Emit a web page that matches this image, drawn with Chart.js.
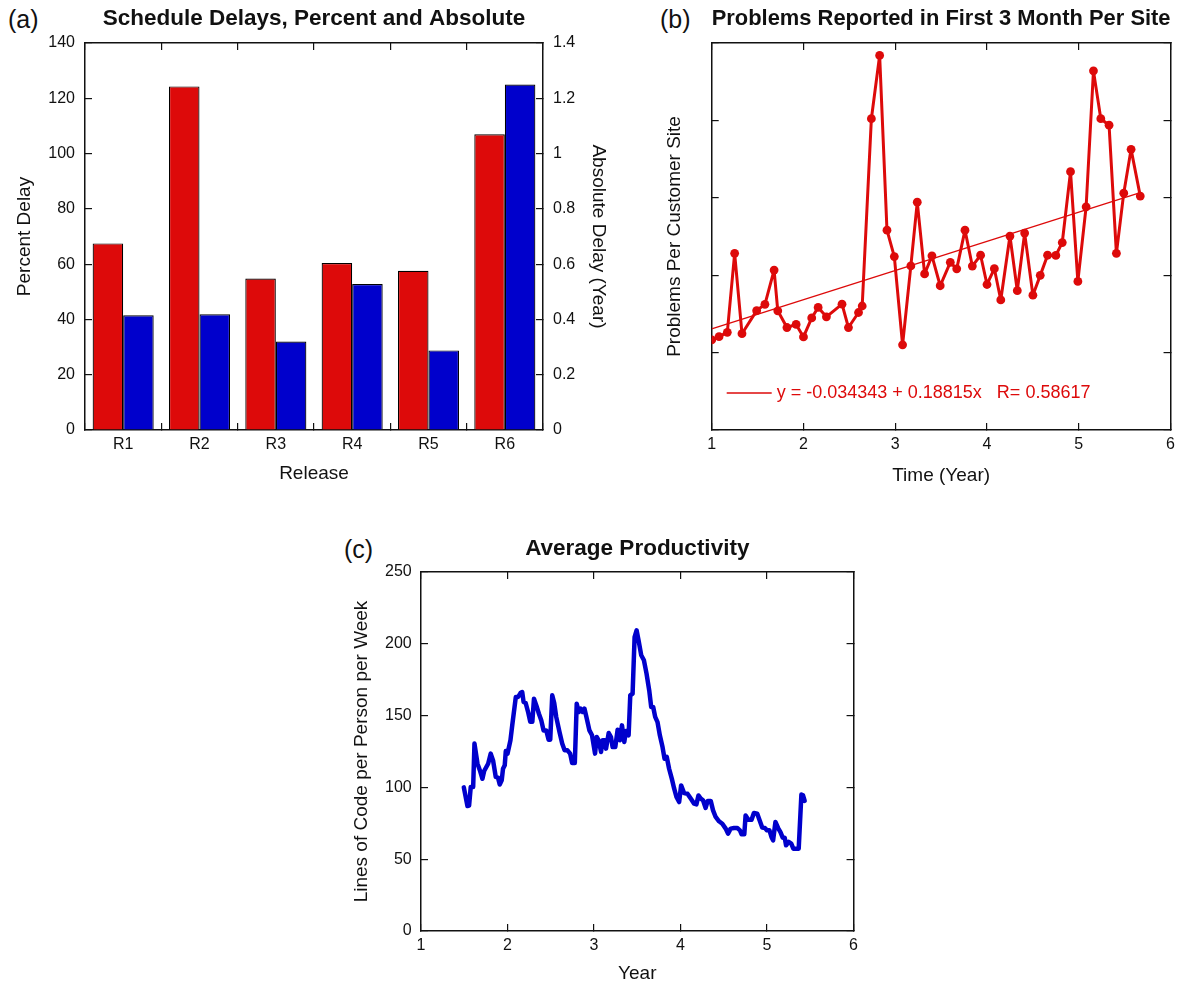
<!DOCTYPE html>
<html>
<head>
<meta charset="utf-8">
<title>Project Metrics</title>
<script src="https://cdn.jsdelivr.net/npm/chart.js@4.4.1/dist/chart.umd.min.js"></script>
<style>
    html, body { margin: 0; padding: 0; background: #fff; }
    body {
        width: 1187px;
        height: 986px;
        position: relative;
        overflow: hidden;
        font-family: "Liberation Sans", Arial, Helvetica, sans-serif;
    }
    canvas { position: absolute; }
    .panel-tag {
        position: absolute;
        font-size: 25px;
        line-height: 26px;
        color: #111;
    }
</style>
</head>
<body>
<div class="panel-tag" style="left:8px; top:6px;">(a)</div>
<div class="panel-tag" style="left:660px; top:6px;">(b)</div>
<div class="panel-tag" style="left:344px; top:536px;">(c)</div>
<canvas id="delayChart" width="640" height="500" style="left:0; top:0;"></canvas>
<canvas id="problemsChart" width="547" height="500" style="left:640px; top:0;"></canvas>
<canvas id="productivityChart" width="540" height="466" style="left:330px; top:520px;"></canvas>

<script>
// (a) Schedule delays per release
const releases = ['R1', 'R2', 'R3', 'R4', 'R5', 'R6'];
const percentDelay = [67.5, 124.3, 54.8, 60.4, 57.6, 107.0];
const absoluteDelay = [0.415, 0.419, 0.32, 0.528, 0.288, 1.25];

// (b) Problems per customer site, first 3 months
const problemYears = [1.00, 1.08, 1.17, 1.25, 1.33, 1.49, 1.58, 1.68, 1.72, 1.82,
    1.92, 2.00, 2.09, 2.16, 2.25, 2.42, 2.49, 2.60, 2.64, 2.74,
    2.83, 2.91, 2.99, 3.08, 3.17, 3.24, 3.32, 3.40, 3.49, 3.60,
    3.67, 3.76, 3.84, 3.93, 4.00, 4.08, 4.15, 4.25, 4.33, 4.41,
    4.50, 4.58, 4.66, 4.75, 4.82, 4.91, 4.99, 5.08, 5.16, 5.24,
    5.33, 5.41, 5.49, 5.57, 5.67];
const problemsPerSite = [0.082, 0.103, 0.131, 0.641, 0.122, 0.271, 0.312, 0.533, 0.27, 0.162,
    0.182, 0.101, 0.224, 0.292, 0.231, 0.313, 0.162, 0.259, 0.301, 1.511,
    1.92, 0.791, 0.62, 0.05, 0.56, 0.972, 0.508, 0.625, 0.432, 0.583,
    0.541, 0.791, 0.559, 0.629, 0.44, 0.542, 0.34, 0.753, 0.4, 0.772,
    0.371, 0.499, 0.629, 0.628, 0.711, 1.169, 0.46, 0.942, 1.82, 1.511,
    1.469, 0.641, 1.03, 1.313, 1.011];
const fitYears = [1.0, 5.67];
const fitValues = [0.154, 1.033];
const fitLabel = 'y = -0.034343 + 0.18815x   R= 0.58617';

// (c) Average productivity
const productivityYears = [1.495, 1.537, 1.556, 1.575, 1.603, 1.618, 1.653, 1.68, 1.71, 1.73,
    1.776, 1.806, 1.833, 1.864, 1.89, 1.91, 1.933, 1.948, 1.968, 1.98,
    2.0, 2.034, 2.057, 2.096, 2.123, 2.15, 2.17, 2.186, 2.21, 2.24,
    2.263, 2.287, 2.306, 2.333, 2.363, 2.39, 2.417, 2.448, 2.475, 2.494,
    2.517, 2.54, 2.563, 2.601, 2.632, 2.66, 2.693, 2.724, 2.747, 2.778,
    2.8, 2.824, 2.847, 2.87, 2.89, 2.916, 2.947, 2.977, 3.012, 3.031,
    3.054, 3.081, 3.1, 3.127, 3.139, 3.17, 3.196, 3.215, 3.246, 3.273,
    3.3, 3.323, 3.35, 3.369, 3.4, 3.419, 3.446, 3.469, 3.492, 3.515,
    3.546, 3.577, 3.607, 3.638, 3.661, 3.684, 3.707, 3.734, 3.761, 3.792,
    3.815, 3.841, 3.868, 3.899, 3.926, 3.953, 3.984, 4.007, 4.041, 4.08,
    4.118, 4.157, 4.184, 4.207, 4.234, 4.26, 4.29, 4.314, 4.349, 4.376,
    4.406, 4.445, 4.483, 4.522, 4.549, 4.579, 4.618, 4.656, 4.687, 4.706,
    4.737, 4.752, 4.783, 4.821, 4.848, 4.887, 4.914, 4.944, 4.975, 5.0,
    5.028, 5.051, 5.07, 5.097, 5.128, 5.155, 5.181, 5.204, 5.22, 5.25,
    5.28, 5.304, 5.335, 5.366, 5.397, 5.416, 5.435];
const linesPerWeek = [100, 87, 87.3, 100.3, 100.3, 130.5, 116.5, 112, 106, 111.4,
    116.5, 123.5, 118.8, 107.3, 106.8, 102, 105, 113, 115.4, 125.3,
    123.5, 132.8, 144.4, 163, 163, 165.7, 166.4, 159.5, 158.8, 152,
    145.7, 145.7, 161.8, 157.1, 151.3, 146.7, 139.7, 139.7, 133.2, 133.2,
    164.1, 158.8, 149.1, 138.6, 130.5, 125.8, 125.8, 123.5, 117, 117,
    158.3, 152.5, 154.8, 152.5, 154.8, 147.9, 139.7, 136.3, 123.5, 135.1,
    132.8, 124.7, 132.8, 132.8, 127, 137.9, 135.1, 128.1, 128.1, 140.2,
    132.8, 143.2, 131.6, 139.3, 136.3, 164.1, 165.3, 204.7, 209.4, 202.4,
    192, 188.5, 179.2, 167.6, 156, 156, 149.1, 145.5, 136.3, 128.1,
    120, 121.2, 113, 106.1, 99.3, 93.3, 89.8, 101.4, 96.1, 95.6,
    92.2, 88.7, 88.2, 94.4, 92.2, 91, 85.7, 90.6, 90.6, 84,
    79.4, 76.4, 74.7, 71.3, 67.8, 71.3, 71.7, 71.7, 70.1, 67.3,
    67.3, 80.5, 77.5, 77.5, 82.2, 81.7, 77.1, 72, 71.7, 70.1,
    70.1, 65.5, 63.1, 75.9, 71.7, 68.9, 65, 65, 59.7, 62,
    60.8, 57.3, 57.3, 57.3, 95, 94.5, 90.6];

// Shared look
const FONT = '"Liberation Sans", Arial, Helvetica, sans-serif';
const INK = '#111';
const RED = '#dd0a0a';
const BLUE = '#0000cc';

Chart.defaults.font.family = FONT;
Chart.defaults.color = INK;
Chart.defaults.animation = false;
Chart.defaults.plugins.legend.display = false;
Chart.defaults.plugins.tooltip.enabled = false;

const tickFont = { size: 16 };
const axisTitleFont = { size: 19 };

// inward tick marks, no grid on the plot
function inwardGrid(offset) {
    return {
        drawOnChartArea: false,
        drawTicks: true,
        tickLength: -7,
        color: INK,
        lineWidth: 1.2,
        offset: !!offset
    };
}
const frameBorder = { display: true, color: INK, width: 1.5 };

function fixWidth(w) {
    return scale => { scale.width = w; };
}
function fixHeight(h) {
    return scale => { scale.height = h; };
}

// "1.0" -> "1", "0.0" -> "0"
function plainNumber(value) {
    return String(Number(value.toFixed(2)));
}

function panelTitle(text, top, bottom) {
    return {
        display: true,
        text: text,
        fullSize: false,
        font: { size: 22.5, weight: 'bold' },
        color: INK,
        padding: { top: top, bottom: bottom }
    };
}

// vertical axes use padding.top, bottom axes use padding.bottom
function axisTitle(text, pad) {
    return {
        display: true,
        text: text,
        font: axisTitleFont,
        color: INK,
        padding: { top: pad, bottom: pad }
    };
}

// Draws the fit line legend in the lower-left of the plot
const fitLegend = {
    id: 'fitLegend',
    afterDraw(chart) {
        const { ctx, chartArea } = chart;
        const y = chartArea.bottom - 37;
        ctx.save();
        ctx.strokeStyle = RED;
        ctx.lineWidth = 1.3;
        ctx.beginPath();
        ctx.moveTo(chartArea.left + 15, y);
        ctx.lineTo(chartArea.left + 60, y);
        ctx.stroke();
        ctx.fillStyle = RED;
        ctx.font = '18px ' + FONT;
        ctx.textBaseline = 'middle';
        ctx.textAlign = 'left';
        ctx.fillText(fitLabel, chartArea.left + 65, y);
        ctx.restore();
    }
};

document.addEventListener('DOMContentLoaded', () => {
    renderDelayChart();
    renderProblemsChart();
    renderProductivityChart();
});

// Render (a)
function renderDelayChart() {
    const ctx = document.getElementById('delayChart').getContext('2d');
    new Chart(ctx, {
        type: 'bar',
        data: {
            labels: releases,
            datasets: [
                {
                    label: 'Percent Delay',
                    data: percentDelay,
                    backgroundColor: RED,
                    borderColor: '#000',
                    borderWidth: 1.2,
                    yAxisID: 'y'
                },
                {
                    label: 'Absolute Delay (Year)',
                    data: absoluteDelay,
                    backgroundColor: BLUE,
                    borderColor: '#000',
                    borderWidth: 1.2,
                    yAxisID: 'y1'
                }
            ]
        },
        options: {
            responsive: false,
            categoryPercentage: 0.8,
            barPercentage: 1.0,
            layout: { padding: 0 },
            plugins: {
                title: panelTitle('Schedule Delays, Percent and Absolute', 5.5, 10.5)
            },
            scales: {
                x: {
                    position: 'bottom',
                    offset: true,
                    grid: inwardGrid(true),
                    border: frameBorder,
                    ticks: { font: tickFont, padding: 12, autoSkip: false, maxRotation: 0 },
                    title: axisTitle('Release', 14.6),
                    afterFit: fixHeight(70)
                },
                xTop: {
                    type: 'category',
                    position: 'top',
                    offset: true,
                    grid: inwardGrid(true),
                    border: frameBorder,
                    ticks: { display: false },
                    afterFit: fixHeight(0)
                },
                y: {
                    position: 'left',
                    min: 0,
                    max: 140,
                    ticks: { stepSize: 20, font: tickFont, padding: 17 },
                    grid: inwardGrid(),
                    border: frameBorder,
                    title: axisTitle('Percent Delay', 13.6),
                    afterFit: fixWidth(85)
                },
                y1: {
                    position: 'right',
                    min: 0,
                    max: 1.4,
                    ticks: { stepSize: 0.2, font: tickFont, padding: 17, callback: plainNumber },
                    grid: inwardGrid(),
                    border: frameBorder,
                    title: axisTitle('Absolute Delay (Year)', 30.6),
                    afterFit: fixWidth(97)
                }
            }
        }
    });
}

// Render (b)
function renderProblemsChart() {
    const ctx = document.getElementById('problemsChart').getContext('2d');
    new Chart(ctx, {
        type: 'line',
        data: {
            datasets: [
                {
                    label: 'Problems',
                    data: problemYears.map((x, i) => ({ x: x, y: problemsPerSite[i] })),
                    borderColor: RED,
                    backgroundColor: RED,
                    borderWidth: 3,
                    borderJoinStyle: 'round',
                    borderCapStyle: 'round',
                    pointRadius: 4.4,
                    pointBorderWidth: 0,
                    pointBackgroundColor: RED,
                    tension: 0
                },
                {
                    label: fitLabel,
                    data: fitYears.map((x, i) => ({ x: x, y: fitValues[i] })),
                    borderColor: RED,
                    borderWidth: 1.3,
                    pointRadius: 0,
                    tension: 0
                }
            ]
        },
        options: {
            responsive: false,
            layout: { padding: 0 },
            plugins: {
                title: panelTitle('Problems Reported in First 3 Month Per Site', 5.5, 10.5)
            },
            scales: {
                x: {
                    type: 'linear',
                    position: 'bottom',
                    min: 1,
                    max: 6,
                    ticks: { stepSize: 1, font: tickFont, padding: 12, autoSkip: false, maxRotation: 0 },
                    grid: inwardGrid(),
                    border: frameBorder,
                    title: axisTitle('Time (Year)', 12.6),
                    afterFit: fixHeight(70)
                },
                xTop: {
                    type: 'linear',
                    position: 'top',
                    min: 1,
                    max: 6,
                    ticks: { stepSize: 1, display: false },
                    grid: inwardGrid(),
                    border: frameBorder,
                    afterFit: fixHeight(0)
                },
                y: {
                    type: 'linear',
                    position: 'left',
                    min: -0.5,
                    max: 2.0,
                    ticks: { stepSize: 0.5, display: false },
                    grid: inwardGrid(),
                    border: frameBorder,
                    title: axisTitle('Problems Per Customer Site', 23.6),
                    afterFit: fixWidth(71.7)
                },
                yRight: {
                    type: 'linear',
                    position: 'right',
                    min: -0.5,
                    max: 2.0,
                    ticks: { stepSize: 0.5, display: false },
                    grid: inwardGrid(),
                    border: frameBorder,
                    afterFit: fixWidth(11)
                }
            }
        },
        plugins: [fitLegend]
    });
}

// Render (c)
function renderProductivityChart() {
    const ctx = document.getElementById('productivityChart').getContext('2d');
    new Chart(ctx, {
        type: 'line',
        data: {
            datasets: [{
                label: 'Average Productivity',
                data: productivityYears.map((x, i) => ({ x: x, y: linesPerWeek[i] })),
                borderColor: BLUE,
                borderWidth: 4.5,
                borderJoinStyle: 'round',
                borderCapStyle: 'round',
                pointRadius: 0,
                tension: 0
            }]
        },
        options: {
            responsive: false,
            layout: { padding: 0 },
            plugins: {
                title: panelTitle('Average Productivity', 15.5, 9.5)
            },
            scales: {
                x: {
                    type: 'linear',
                    position: 'bottom',
                    min: 1,
                    max: 6,
                    ticks: { stepSize: 1, font: tickFont, padding: 12, autoSkip: false, maxRotation: 0 },
                    grid: inwardGrid(),
                    border: frameBorder,
                    title: axisTitle('Year', 0.6),
                    afterFit: fixHeight(55)
                },
                xTop: {
                    type: 'linear',
                    position: 'top',
                    min: 1,
                    max: 6,
                    ticks: { stepSize: 1, display: false },
                    grid: inwardGrid(),
                    border: frameBorder,
                    afterFit: fixHeight(0)
                },
                y: {
                    type: 'linear',
                    position: 'left',
                    min: 0,
                    max: 250,
                    ticks: { stepSize: 50, font: tickFont, padding: 16.3 },
                    grid: inwardGrid(),
                    border: frameBorder,
                    title: axisTitle('Lines of Code per Person per Week', 20.6),
                    afterFit: fixWidth(91)
                },
                yRight: {
                    type: 'linear',
                    position: 'right',
                    min: 0,
                    max: 250,
                    ticks: { stepSize: 50, display: false },
                    grid: inwardGrid(),
                    border: frameBorder,
                    afterFit: fixWidth(15)
                }
            }
        }
    });
}
</script>
</body>
</html>
